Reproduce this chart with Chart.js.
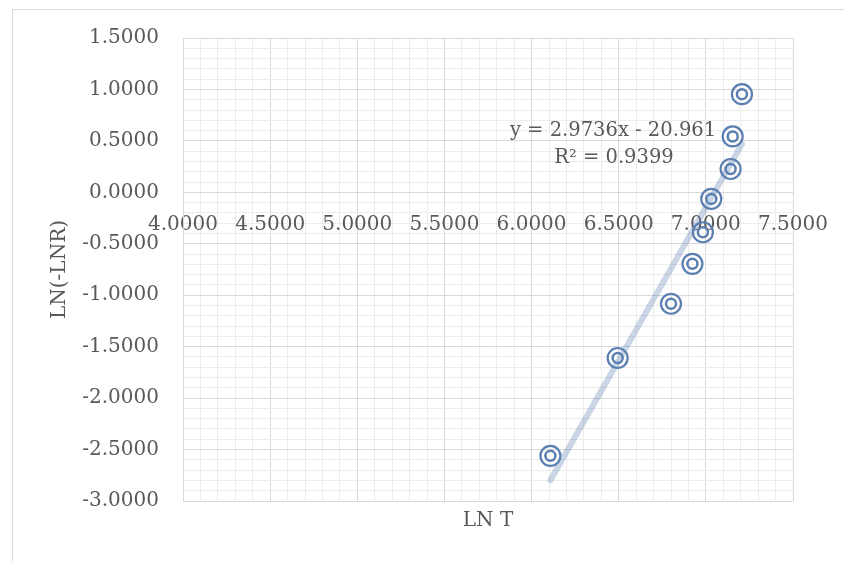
<!DOCTYPE html>
<html>
<head>
<meta charset="utf-8">
<script src="https://cdn.jsdelivr.net/npm/chart.js@4.4.1/dist/chart.umd.min.js"></script>
<style>
  html, body { margin: 0; padding: 0; background: #ffffff; }
  #wrap { width: 844px; height: 561px; }
</style>
</head>
<body>
<div id="wrap"><canvas id="c" width="844" height="561"></canvas></div>
<script>
// Measured points: LN T against LN(-LNR)
const lnT   = [6.108, 6.494, 6.800, 6.923, 6.983, 7.031, 7.142, 7.154, 7.207];
const lnLnR = [-2.561, -1.610, -1.083, -0.695, -0.388, -0.064, 0.227, 0.543, 0.954];

// Linear fit reported on the chart
const slope = 2.9736;
const intercept = -20.961;
const rSquared = 0.9399;

// Axis ranges and label text
const xRange = [4.0, 7.5];
const yRange = [-3.0, 1.5];
const xTitle = 'LN T';
const yTitle = 'LN(-LNR)';

const FONT = '"DejaVu Serif", serif';
const FONT_SIZE = 20;
const TEXT = '#595959';
const MARK = '#5b7fb1';

const points = lnT.map((x, i) => ({ x, y: lnLnR[i] }));
const xMin = Math.min(...lnT), xMax = Math.max(...lnT);
const trend = [xMin, xMax].map(x => ({ x, y: slope * x + intercept }));

const isMajor = v => Math.abs(v * 2 - Math.round(v * 2)) < 1e-6;
const gridColor = ctx => (ctx.tick && isMajor(ctx.tick.value)) ? '#d9d9d9' : '#ececec';

const decorations = {
  id: 'decorations',
  beforeDraw(chart) {
    const g = chart.ctx;
    g.save();
    g.strokeStyle = '#d9d9d9';
    g.lineWidth = 1;
    g.strokeRect(12.5, 9.5, 900, 600);
    g.restore();
  },
  afterDraw(chart) {
    const g = chart.ctx;
    const a = chart.chartArea;
    g.save();
    g.fillStyle = TEXT;
    g.font = FONT_SIZE + 'px ' + FONT;
    g.textAlign = 'center';
    g.textBaseline = 'middle';
    // axis titles
    g.fillText(xTitle, (a.left + a.right) / 2, 521);
    g.save();
    g.translate(60, (a.top + a.bottom) / 2);
    g.rotate(-Math.PI / 2);
    g.fillText(yTitle, 0, 0);
    g.restore();
    // trendline equation
    g.font = '19.5px ' + FONT;
    const sign = intercept < 0 ? ' - ' : ' + ';
    g.fillText('y = ' + slope.toFixed(4) + 'x' + sign + Math.abs(intercept).toFixed(3), 613, 131);
    g.fillText('R\u00B2 = ' + rSquared.toFixed(4), 614, 158);
    g.restore();
  }
};

new Chart(document.getElementById('c'), {
  type: 'scatter',
  data: {
    datasets: [
      {
        type: 'line',
        data: trend,
        borderColor: 'rgba(91,127,177,0.32)',
        borderWidth: 6,
        borderCapStyle: 'round',
        pointRadius: 0,
        fill: false,
        order: 0
      },
      {
        data: points,
        pointRadius: 10,
        pointBorderWidth: 2.2,
        pointBorderColor: MARK,
        pointBackgroundColor: 'rgba(255,255,255,0)',
        order: 1
      },
      {
        data: points,
        pointRadius: 5,
        pointBorderWidth: 2.5,
        pointBorderColor: MARK,
        pointBackgroundColor: 'rgba(255,255,255,0)',
        order: 1
      }
    ]
  },
  options: {
    responsive: false,
    animation: false,
    events: [],
    layout: { padding: { top: 38, right: 51, bottom: 60, left: 0 } },
    plugins: { legend: { display: false }, tooltip: { enabled: false } },
    scales: {
      x: {
        type: 'linear',
        position: { y: 0 },
        min: xRange[0],
        max: xRange[1],
        afterFit: s => { s.paddingLeft = 0; s.paddingRight = 0; },
        grid: { color: gridColor, drawTicks: false, lineWidth: 1 },
        border: { color: '#d9d9d9' },
        ticks: {
          stepSize: 0.1,
          autoSkip: false,
          maxRotation: 0,
          padding: 20,
          color: TEXT,
          font: { family: FONT, size: FONT_SIZE },
          callback: v => isMajor(v) ? Number(v).toFixed(4) : ''
        }
      },
      y: {
        type: 'linear',
        min: yRange[0],
        max: yRange[1],
        afterFit: s => { s.width = 183; },
        grid: { color: gridColor, drawTicks: false, lineWidth: 1 },
        border: { color: '#d9d9d9' },
        ticks: {
          stepSize: 0.1,
          autoSkip: false,
          padding: 24,
          color: TEXT,
          font: { family: FONT, size: FONT_SIZE },
          callback: v => isMajor(v) ? Number(v).toFixed(4) : ''
        }
      }
    }
  },
  plugins: [decorations]
});
</script>
</body>
</html>
